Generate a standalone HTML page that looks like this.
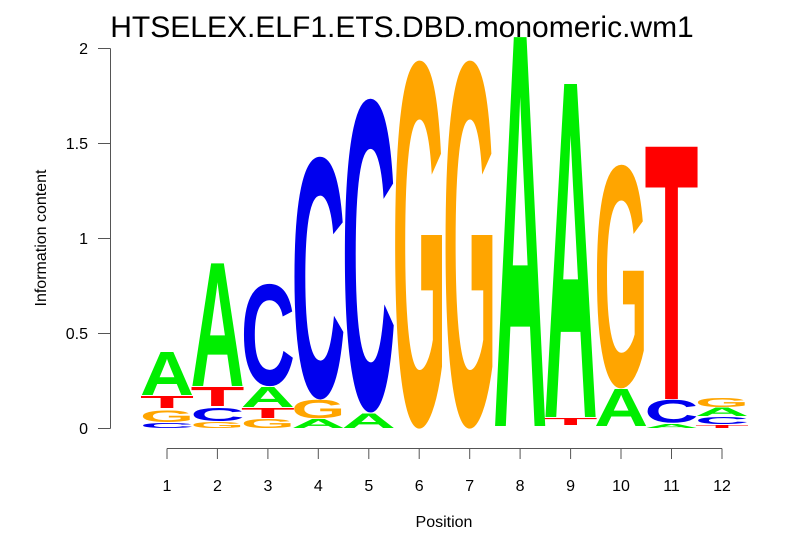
<!DOCTYPE html>
<html><head><meta charset="utf-8"><style>html,body{margin:0;padding:0;background:#fff}svg{display:block}</style></head>
<body>
<svg width="806" height="559" xmlns="http://www.w3.org/2000/svg" font-family="Liberation Sans, sans-serif">
<text x="402" y="37" font-size="30" text-anchor="middle">HTSELEX.ELF1.ETS.DBD.monomeric.wm1</text>
<g stroke="#555" stroke-width="1" fill="none">
<path d="M110.5 48.5V428.5M98 48.5H110.5M98 143.5H110.5M98 238.5H110.5M98 333.5H110.5M98 428.5H110.5"/>
<path d="M167 448.5H722M167 448.5V459M217.4 448.5V459M267.9 448.5V459M318.3 448.5V459M368.8 448.5V459M419.2 448.5V459M469.7 448.5V459M520.1 448.5V459M570.6 448.5V459M621 448.5V459M671.5 448.5V459M722 448.5V459"/>
</g>
<g font-size="16" text-anchor="end">
<text x="88" y="54">2</text><text x="88" y="149">1.5</text><text x="88" y="244">1</text><text x="88" y="339">0.5</text><text x="88" y="434">0</text>
</g>
<g font-size="16" text-anchor="middle">
<text x="167" y="491">1</text><text x="217.4" y="491">2</text><text x="267.9" y="491">3</text><text x="318.3" y="491">4</text><text x="368.8" y="491">5</text><text x="419.2" y="491">6</text><text x="469.7" y="491">7</text><text x="520.1" y="491">8</text><text x="570.6" y="491">9</text><text x="621" y="491">10</text><text x="671.5" y="491">11</text><text x="722" y="491">12</text>
<text x="444" y="527">Position</text>
<text transform="translate(46,238) rotate(-90)">Information content</text>
</g>
<g font-size="100" font-weight="bold">
<!-- col1 -->
<text transform="translate(140,427.94) scale(1,0.071)" textLength="54" lengthAdjust="spacingAndGlyphs" fill="#0000ee">C</text>
<text transform="translate(140,421.86) scale(1,0.170)" textLength="54" lengthAdjust="spacingAndGlyphs" fill="#ffa500">G</text>
<text transform="translate(140,408) scale(1,0.174)" textLength="54" lengthAdjust="spacingAndGlyphs" fill="#ff0000">T</text>
<text transform="translate(140,395) scale(1,0.623)" textLength="54" lengthAdjust="spacingAndGlyphs" fill="#00ee00">A</text>
<!-- col2 -->
<text transform="translate(190.5,427.93) scale(1,0.085)" textLength="54" lengthAdjust="spacingAndGlyphs" fill="#ffa500">G</text>
<text transform="translate(190.5,420.84) scale(1,0.184)" textLength="54" lengthAdjust="spacingAndGlyphs" fill="#0000ee">C</text>
<text transform="translate(190.5,406) scale(1,0.275)" textLength="54" lengthAdjust="spacingAndGlyphs" fill="#ff0000">T</text>
<text transform="translate(190.5,386) scale(1,1.783)" textLength="54" lengthAdjust="spacingAndGlyphs" fill="#00ee00">A</text>
<!-- col3 -->
<text transform="translate(240.9,427.89) scale(1,0.127)" textLength="54" lengthAdjust="spacingAndGlyphs" fill="#ffa500">G</text>
<text transform="translate(240.9,418) scale(1,0.145)" textLength="54" lengthAdjust="spacingAndGlyphs" fill="#ff0000">T</text>
<text transform="translate(240.9,407) scale(1,0.29)" textLength="54" lengthAdjust="spacingAndGlyphs" fill="#00ee00">A</text>
<text transform="translate(240.9,384.77) scale(1,1.445)" textLength="54" lengthAdjust="spacingAndGlyphs" fill="#0000ee">C</text>
<!-- col4 -->
<text transform="translate(291.4,428) scale(1,0.130)" textLength="54" lengthAdjust="spacingAndGlyphs" fill="#00ee00">A</text>
<text transform="translate(291.4,417.78) scale(1,0.255)" textLength="54" lengthAdjust="spacingAndGlyphs" fill="#ffa500">G</text>
<text transform="translate(291.4,396.09) scale(1,3.428)" textLength="54" lengthAdjust="spacingAndGlyphs" fill="#0000ee">C</text>
<!-- col5 -->
<text transform="translate(341.8,428) scale(1,0.217)" textLength="54" lengthAdjust="spacingAndGlyphs" fill="#00ee00">A</text>
<text transform="translate(341.8,408.23) scale(1,4.433)" textLength="54" lengthAdjust="spacingAndGlyphs" fill="#0000ee">C</text>
<!-- col6,7 -->
<text transform="translate(392.3,423.58) scale(1,5.198)" textLength="54" lengthAdjust="spacingAndGlyphs" fill="#ffa500">G</text>
<text transform="translate(442.7,423.58) scale(1,5.198)" textLength="54" lengthAdjust="spacingAndGlyphs" fill="#ffa500">G</text>
<!-- col8 -->
<text transform="translate(493.2,426) scale(1,5.652)" textLength="54" lengthAdjust="spacingAndGlyphs" fill="#00ee00">A</text>
<!-- col9 -->
<text transform="translate(543.6,425) scale(1,0.101)" textLength="54" lengthAdjust="spacingAndGlyphs" fill="#ff0000">T</text>
<text transform="translate(543.6,417) scale(1,4.841)" textLength="54" lengthAdjust="spacingAndGlyphs" fill="#00ee00">A</text>
<!-- col10 -->
<text transform="translate(594.1,426) scale(1,0.536)" textLength="54" lengthAdjust="spacingAndGlyphs" fill="#00ee00">A</text>
<text transform="translate(594.1,385.31) scale(1,3.159)" textLength="54" lengthAdjust="spacingAndGlyphs" fill="#ffa500">G</text>
<!-- col11 -->
<text transform="translate(644.5,428) scale(1,0.058)" textLength="54" lengthAdjust="spacingAndGlyphs" fill="#00ee00">A</text>
<text transform="translate(644.5,422.72) scale(1,0.326)" textLength="54" lengthAdjust="spacingAndGlyphs" fill="#0000ee">C</text>
<text transform="translate(644.5,399) scale(1,3.667)" textLength="54" lengthAdjust="spacingAndGlyphs" fill="#ff0000">T</text>
<!-- col12 -->
<text transform="translate(695,428) scale(1,0.043)" textLength="54" lengthAdjust="spacingAndGlyphs" fill="#ff0000">T</text>
<text transform="translate(695,423.92) scale(1,0.099)" textLength="54" lengthAdjust="spacingAndGlyphs" fill="#0000ee">C</text>
<text transform="translate(695,416) scale(1,0.116)" textLength="54" lengthAdjust="spacingAndGlyphs" fill="#00ee00">A</text>
<text transform="translate(695,406.89) scale(1,0.127)" textLength="54" lengthAdjust="spacingAndGlyphs" fill="#ffa500">G</text>
</g>
</svg>
</body></html>
